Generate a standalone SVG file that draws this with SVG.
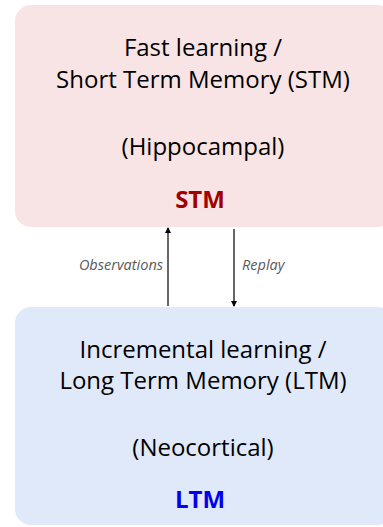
<svg xmlns="http://www.w3.org/2000/svg" width="383" height="527" viewBox="0 0 383 527">
<style>
.t{font-family:"Open Sans","Liberation Sans",sans-serif;font-size:24px;fill:#000;text-anchor:middle}
.b{font-family:"Open Sans","Liberation Sans",sans-serif;font-size:24px;font-weight:bold;text-anchor:middle}
.l{font-family:"Open Sans","Liberation Sans",sans-serif;font-size:14.5px;font-style:italic;fill:#595959}
.c{stroke:#000;stroke-width:1.2;fill:none;marker-end:url(#ah)}
</style>
<defs>
<marker id="ah" markerWidth="6" markerHeight="6" refX="5" refY="3" orient="auto" markerUnits="userSpaceOnUse">
<path d="M0,0 L6,3 L0,6 Z" fill="#000"/>
</marker>
</defs>
<rect width="383" height="527" fill="#fff"/>
<g id="stm">
<rect x="15" y="5" width="378" height="222" rx="16" fill="#f8e4e4"/>
<text class="t" x="203" y="56">Fast learning /</text>
<text class="t" x="203" y="88">Short Term Memory (STM)</text>
<text class="t" x="203" y="155">(Hippocampal)</text>
<text class="b" x="200" y="208" fill="#a00000">STM</text>
</g>
<g id="ltm">
<rect x="15" y="307" width="378" height="218" rx="16" fill="#e0e9f9"/>
<text class="t" x="203" y="358">Incremental learning /</text>
<text class="t" x="203" y="389">Long Term Memory (LTM)</text>
<text class="t" x="203" y="456">(Neocortical)</text>
<text class="b" x="200" y="508" fill="#0000ee">LTM</text>
</g>
<g id="connectors">
<line class="c" x1="168" y1="306" x2="168" y2="228"/>
<line class="c" x1="234" y1="229" x2="234" y2="306"/>
<text class="l" x="163" y="270" text-anchor="end">Observations</text>
<text class="l" x="242" y="270">Replay</text>
</g>
</svg>
